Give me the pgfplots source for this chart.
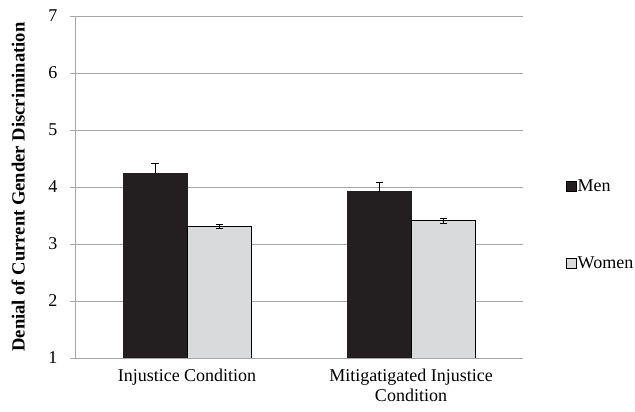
\documentclass[border=0pt]{standalone}
\usepackage{fontspec}
\setmainfont{Liberation Serif}
\newfontfamily\tnr{Liberation Serif}
\usepackage{pgfplots}
\pgfplotsset{compat=1.18}
\definecolor{menc}{HTML}{231F20}
\definecolor{womc}{HTML}{D9DADC}
\definecolor{gridc}{HTML}{A6A6A6}
\begin{document}
\begin{tikzpicture}[font=\tnr]
\path[use as bounding box] (0,0) rectangle (635bp,412bp);
\begin{axis}[
  at={(75bp,54bp)}, anchor=south west,
  scale only axis, width=448bp, height=342bp,
  xmin=-0.5, xmax=1.5, ymin=1, ymax=7,
  ytick={1,2,3,4,5,6,7},
  xtick={0,1},
  xticklabels={Injustice Condition,{Mitigatigated Injustice\\Condition}},
  x tick label style={align=center, font=\tnr\fontsize{18bp}{20bp}\selectfont, yshift=-2bp},
  y tick label style={font=\tnr\fontsize{18bp}{20bp}\selectfont, xshift=-9bp},
  /pgf/number format/assume math mode=true,
  major x tick style={draw=none},
  extra x ticks={-0.5,0.5,1.5},
  extra x tick labels={},
  extra x tick style={major tick length=5bp, tick style={draw=gridc}},
  tick align=outside,
  major tick length=5bp,
  tick style={draw=gridc, line width=0.8bp},
  axis x line*=bottom, axis y line*=left,
  axis line style={draw=gridc, line width=0.8bp, -},
  ymajorgrids, grid style={draw=gridc, line width=0.8bp},
  ybar=0pt, bar width=64bp,
  ylabel={\bfseries Denial of Current Gender Discrimination},
  ylabel style={at={(axis description cs:-0.127,0.5)}, anchor=center, font=\tnr\fontsize{18.6bp}{20bp}\selectfont},
  legend style={at={(axis description cs:1.096,0.39)}, anchor=west, draw=none, fill=none,
    font=\tnr\fontsize{18bp}{20bp}\selectfont, row sep=62bp, inner sep=0pt,
    nodes={inner sep=1bp}},
  legend cell align=left,
  legend image code/.code={\draw[#1, draw=black, line width=0.5bp] (0bp,-5bp) rectangle (10bp,5bp);},
  error bars/error bar style={black, line width=0.8bp},
  error bars/error mark options={rotate=90, mark size=3.5bp, line width=0.8bp},
]
\addplot[fill=menc, draw=menc, error bars/.cd, y dir=plus, y explicit]
  coordinates {(0,4.24) +- (0,0.17) (1,3.92) +- (0,0.16)};
\addplot[fill=womc, draw=black, line width=0.6bp, error bars/.cd, y dir=both, y explicit]
  coordinates {(0,3.31) +- (0,0.04) (1,3.41) +- (0,0.04)};
\legend{Men,Women}
\end{axis}
\end{tikzpicture}
\end{document}
